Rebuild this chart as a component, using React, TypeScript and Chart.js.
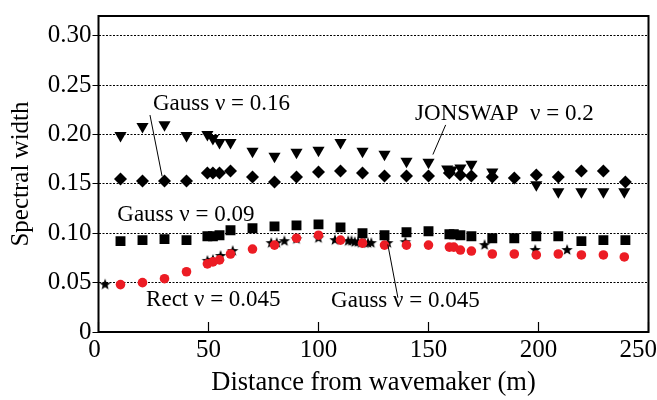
import React, { useEffect, useRef } from "react";
import { Chart, registerables } from "chart.js";

Chart.register(...registerables);

const X_TICKS = [0, 50, 100, 150, 200, 250];
const Y_TICKS = [0, 0.05, 0.1, 0.15, 0.2, 0.25, 0.3];

// JONSWAP nu = 0.2 (down triangles)
const jonswapX = [10, 20, 30, 40, 49.5, 52, 55, 60, 70, 80, 90, 100, 110, 120, 130, 140, 150, 158.5, 160.5, 164.5, 169.5, 179, 199, 209, 219.5, 229.5, 239];
const jonswapY = [0.199, 0.208, 0.21, 0.199, 0.2, 0.196, 0.192, 0.192, 0.183, 0.178, 0.182, 0.184, 0.192, 0.183, 0.18, 0.173, 0.172, 0.165, 0.164, 0.166, 0.17, 0.162, 0.149, 0.142, 0.142, 0.142, 0.142];

// Gauss nu = 0.16 (diamonds)
const gauss16X = [10, 20, 30, 40, 49.5, 52, 55, 60, 70, 80, 90, 100, 110, 120, 130, 140, 150, 159.5, 164.5, 169.5, 179, 189, 199, 209, 219.5, 229.5, 239.5];
const gauss16Y = [0.155, 0.153, 0.153, 0.153, 0.161, 0.161, 0.161, 0.163, 0.157, 0.152, 0.157, 0.162, 0.163, 0.161, 0.158, 0.158, 0.158, 0.161, 0.159, 0.158, 0.157, 0.156, 0.159, 0.157, 0.163, 0.163, 0.152];

// Gauss nu = 0.09 (squares)
const gauss09X = [10, 20, 30, 40, 49.5, 52, 55, 60, 70, 80, 90, 100, 110, 120, 130, 140, 150, 159.5, 161.5, 164.5, 169.5, 179, 189, 199, 209, 219.5, 229.5, 239.5];
const gauss09Y = [0.092, 0.093, 0.094, 0.093, 0.097, 0.097, 0.098, 0.103, 0.105, 0.107, 0.108, 0.109, 0.106, 0.1, 0.098, 0.101, 0.102, 0.099, 0.099, 0.098, 0.097, 0.095, 0.095, 0.097, 0.097, 0.092, 0.093, 0.093];

// Rect nu = 0.045 (red circles)
const rectX = [10, 20, 30, 40, 49.5, 52, 55, 60, 70, 80, 90, 100, 110, 120, 130, 140, 150, 159.5, 161.5, 164.5, 169.5, 179, 189, 199, 209, 219.5, 229.5, 239];
const rectY = [0.048, 0.05, 0.054, 0.061, 0.069, 0.071, 0.073, 0.079, 0.084, 0.088, 0.095, 0.098, 0.093, 0.09, 0.088, 0.088, 0.088, 0.086, 0.086, 0.083, 0.082, 0.079, 0.079, 0.078, 0.079, 0.078, 0.078, 0.076];

// Gauss nu = 0.045 (stars)
const gauss045X = [3, 49.5, 52, 55.5, 61, 78.5, 81, 84.5, 90, 100, 107.5, 113.5, 115, 116.5, 118, 119.5, 121, 122.5, 124, 131.5, 139.5, 175.5, 198.5, 213];
const gauss045Y = [0.048, 0.072, 0.073, 0.077, 0.082, 0.09, 0.09, 0.092, 0.094, 0.095, 0.093, 0.092, 0.092, 0.091, 0.091, 0.09, 0.09, 0.09, 0.09, 0.09, 0.091, 0.088, 0.083, 0.083];

const SERIF = '"Liberation Serif", "Times New Roman", serif';

const toPts = (xs: number[], ys: number[]) => xs.map((x, i) => ({ x, y: ys[i] }));

function makeStar(r: number): HTMLCanvasElement {
  const size = Math.ceil(r * 2 + 2);
  const c = document.createElement("canvas");
  c.width = size;
  c.height = size;
  const ctx = c.getContext("2d")!;
  ctx.beginPath();
  for (let i = 0; i < 10; i++) {
    const rad = i % 2 === 0 ? r : r * 0.42;
    const a = -Math.PI / 2 + (i * Math.PI) / 5;
    ctx.lineTo(size / 2 + rad * Math.cos(a), size / 2 + rad * Math.sin(a));
  }
  ctx.closePath();
  ctx.fillStyle = "#000";
  ctx.fill();
  return c;
}

const annotations = [
  { text: "Gauss \u03bd = 0.16", x: 55.9, y: 0.2307 },
  { text: "JONSWAP  \u03bd = 0.2", x: 184.5, y: 0.2207 },
  { text: "Gauss \u03bd = 0.09", x: 39.7, y: 0.1184 },
  { text: "Rect \u03bd = 0.045", x: 52.2, y: 0.0327 },
  { text: "Gauss \u03bd = 0.045", x: 139.5, y: 0.0317 },
];

const leaders = [
  { x1: 23.4, y1: 0.2197, x2: 28.9, y2: 0.1577 },
  { x1: 157.8, y1: 0.2097, x2: 152.0, y2: 0.1797 },
  { x1: 131.5, y1: 0.0887, x2: 136.1, y2: 0.0347 },
];

const decor = {
  id: "decor",
  afterDraw(chart: any) {
    const { ctx, chartArea: a, scales } = chart;
    const x = scales.x;
    const y = scales.y;
    ctx.save();
    // leader lines
    ctx.strokeStyle = "#000";
    ctx.lineWidth = 1;
    leaders.forEach((l) => {
      ctx.beginPath();
      ctx.moveTo(x.getPixelForValue(l.x1), y.getPixelForValue(l.y1));
      ctx.lineTo(x.getPixelForValue(l.x2), y.getPixelForValue(l.y2));
      ctx.stroke();
    });
    // annotations
    ctx.fillStyle = "#000";
    ctx.font = `23px ${SERIF}`;
    ctx.textAlign = "center";
    ctx.textBaseline = "middle";
    annotations.forEach((t) => {
      ctx.fillText(t.text, x.getPixelForValue(t.x), y.getPixelForValue(t.y));
    });
    // frame
    ctx.lineWidth = 2;
    ctx.strokeRect(a.left, a.top, a.right - a.left, a.bottom - a.top);
    // inward x ticks
    ctx.lineWidth = 1.2;
    X_TICKS.forEach((v) => {
      const px = x.getPixelForValue(v);
      ctx.beginPath();
      ctx.moveTo(px, a.bottom);
      ctx.lineTo(px, a.bottom - 10);
      ctx.stroke();
    });
    // x tick labels
    ctx.font = `25px ${SERIF}`;
    X_TICKS.forEach((v) => {
      const lbl = String(v);
      const w = ctx.measureText(lbl).width;
      let px = x.getPixelForValue(v);
      px = Math.min(px, chart.width - w / 2);
      if (v === 0) px -= 4;
      ctx.fillText(lbl, px, a.bottom + 18);
    });
    ctx.restore();
  },
};

export default function App() {
  const ref = useRef<HTMLCanvasElement | null>(null);
  useEffect(() => {
    if (!ref.current) return;
    const star = makeStar(6);
    const chart = new Chart(ref.current, {
      type: "scatter",
      data: {
        datasets: [
          {
            label: "Gauss 0.16",
            data: toPts(gauss16X, gauss16Y),
            pointStyle: "rectRot",
            pointRadius: 6.5,
            backgroundColor: "#000",
            borderColor: "#000",
            borderWidth: 0,
          },
          {
            label: "JONSWAP 0.2",
            data: toPts(jonswapX, jonswapY),
            pointStyle: "triangle",
            rotation: 180,
            pointRadius: 7,
            backgroundColor: "#000",
            borderColor: "#000",
            borderWidth: 0,
          },
          {
            label: "Gauss 0.09",
            data: toPts(gauss09X, gauss09Y),
            pointStyle: "rect",
            pointRadius: 7,
            backgroundColor: "#000",
            borderColor: "#000",
            borderWidth: 0,
          },
          {
            label: "Rect 0.045",
            data: toPts(rectX, rectY),
            pointStyle: "circle",
            pointRadius: 4.8,
            backgroundColor: "#ec1c24",
            borderColor: "#ec1c24",
            borderWidth: 0,
          },
          {
            label: "Gauss 0.045",
            data: toPts(gauss045X, gauss045Y),
            pointStyle: star as any,
            pointRadius: 6,
            backgroundColor: "#000",
            borderColor: "#000",
          },
        ],
      },
      options: {
        animation: false,
        responsive: true,
        maintainAspectRatio: false,
        layout: { padding: { left: 0, top: 12, right: 8.5, bottom: 0 } },
        plugins: { legend: { display: false }, tooltip: { enabled: false } },
        scales: {
          x: {
            type: "linear",
            min: 0,
            max: 250,
            grid: { display: false },
            border: { display: false },
            ticks: { display: false },
            title: {
              display: true,
              text: "Distance from wavemaker (m)",
              color: "#000",
              font: { family: SERIF, size: 26.5 },
              padding: { top: 0, bottom: 1 },
            },
            afterFit: (s: any) => {
              s.height = 68;
            },
          },
          y: {
            type: "linear",
            min: 0,
            max: 0.32,
            afterBuildTicks: (s: any) => {
              s.ticks = Y_TICKS.map((v) => ({ value: v }));
            },
            grid: {
              color: "#000",
              lineWidth: 1,
              drawTicks: true,
              tickLength: 6,
              tickColor: "#000",
            },
            border: { display: false, dash: [2, 1.5] },
            ticks: {
              color: "#000",
              padding: 1,
              font: { family: SERIF, size: 25 },
              callback: (v: any) => (Number(v) === 0 ? "0" : Number(v).toFixed(2)),
            },
            title: {
              display: true,
              text: "Spectral width",
              color: "#000",
              font: { family: SERIF, size: 25 },
              padding: { top: 6, bottom: 0 },
            },
            afterFit: (s: any) => {
              s.width = 98.5;
            },
          },
        },
      },
      plugins: [decor],
    });
    return () => chart.destroy();
  }, []);
  return (
    <div style={{ position: "fixed", left: 0, top: 0, width: 657, height: 400 }}>
      <canvas ref={ref} />
    </div>
  );
}
